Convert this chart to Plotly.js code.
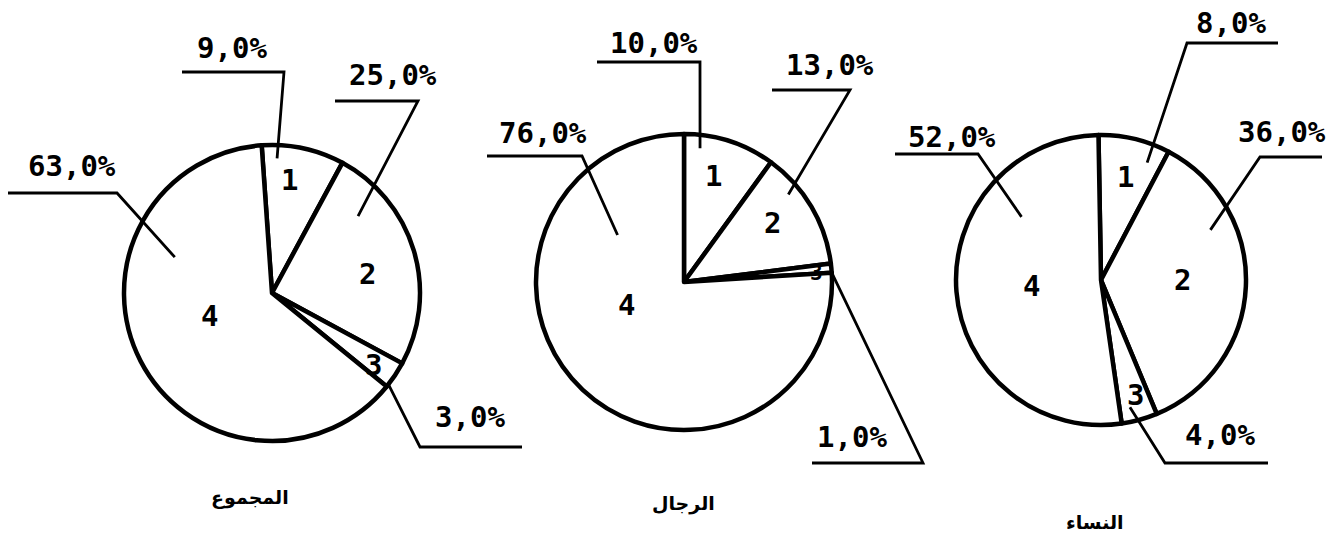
<!DOCTYPE html>
<html><head><meta charset="utf-8">
<script src="https://cdn.plot.ly/plotly-3.0.1.min.js"></script>
<style>html,body{margin:0;padding:0;background:#fff;}#chart{width:1342px;height:556px;}</style>
</head><body><div id="chart"></div>
<script>
// ---------- DATA ----------
const categories = ['1', '2', '3', '4'];
const groupTitles = ['المجموع', 'الرجال', 'النساء'];
const totalValues = [9, 25, 3, 63];
const menValues = [10, 13, 1, 76];
const womenValues = [8, 36, 4, 52];
const seriesValues = [totalValues, menValues, womenValues];

// ---------- LAYOUT (pixel geometry, not data) ----------
const W = 1342, H = 556;
const pieCenters = [[272, 293], [684, 282], [1101, 280]];
const pieRadii = [148, 148, 145];
const pieRotation = [-4, 0, -1];
// slice-number placement: [fraction along slice arc, radius fraction]
const numberPlacement = [
  [[0.40, 0.77], [0.56, 0.66], [0.66, 0.84], [0.53, 0.45]],
  [[0.43, 0.74], [0.44, 0.72], [0.95, 0.90], [0.59, 0.42]],
  [[0.49, 0.73], [0.48, 0.56], [0.42, 0.83], [0.50, 0.48]]
];
const numberFontSize = [[29, 29, 29, 29], [29, 29, 21, 29], [29, 29, 29, 29]];
// leader-line anchor inside the slice: [fraction along slice arc, radius fraction]
const leaderAnchor = [
  [[0.19, 0.91], [0.22, 0.78], [0.90, 1.00], [0.71, 0.70]],
  [[0.19, 0.91], [0.30, 0.92], [1.00, 1.00], [0.80, 0.55]],
  [[0.78, 0.87], [0.29, 0.83], [0.68, 0.90], [0.73, 0.70]]
];
const leaderElbow = [
  [[284, 72], [418, 101], [420, 447], [117, 193]],
  [[700, 62], [850, 90], [923, 463], [582, 156]],
  [[1187, 43], [1260, 157], [1165, 463], [978, 154]]
];
const leaderEndX = [[182, 335, 522, 8], [597, 772, 812, 487], [1278, 1322, 1268, 895]];
const pctTextPos = [
  [[232, 48], [393, 75], [470, 417], [72, 166]],
  [[654, 43], [830, 65], [852, 437], [543, 133]],
  [[1231, 23], [1282, 132], [1220, 435], [952, 137]]
];
const titlePos = [[250, 497], [683, 503], [1095, 522]];

// ---------- BUILD ----------
const px = x => x / W;
const py = y => 1 - y / H;

function sliceAngles(vals, rot) {
  const tot = vals.reduce((a, b) => a + b, 0);
  let cum = 0;
  return vals.map(v => {
    const s = rot + 360 * cum / tot;
    cum += v;
    return [s, rot + 360 * cum / tot];
  });
}
function polarPoint(c, r, angDeg, rf) {
  const a = angDeg * Math.PI / 180;
  return [c[0] + rf * r * Math.sin(a), c[1] - rf * r * Math.cos(a)];
}

const traces = [];
const annotations = [];
const shapes = [];
const monoBold = { family: 'DejaVu Sans Mono', size: 29, color: '#000', weight: 'bold' };

seriesValues.forEach((vals, g) => {
  const c = pieCenters[g], r = pieRadii[g];
  traces.push({
    type: 'pie',
    values: vals,
    labels: categories,
    sort: false,
    direction: 'clockwise',
    rotation: pieRotation[g],
    textinfo: 'none',
    hoverinfo: 'none',
    showlegend: false,
    marker: { colors: vals.map(() => '#ffffff'), line: { color: '#000', width: 4.5 } },
    domain: { x: [px(c[0] - r), px(c[0] + r)], y: [py(c[1] + r), py(c[1] - r)] }
  });
  const angs = sliceAngles(vals, pieRotation[g]);
  vals.forEach((v, i) => {
    const [s, e] = angs[i];
    // slice number
    const np = numberPlacement[g][i];
    const nPt = polarPoint(c, r, s + np[0] * (e - s), np[1]);
    annotations.push({
      xref: 'paper', yref: 'paper', x: px(nPt[0]), y: py(nPt[1]),
      xanchor: 'center', yanchor: 'middle', showarrow: false,
      text: categories[i],
      font: Object.assign({}, monoBold, { size: numberFontSize[g][i] })
    });
    // leader line
    const la = leaderAnchor[g][i];
    const aPt = polarPoint(c, r, s + la[0] * (e - s), la[1]);
    const el = leaderElbow[g][i];
    const hx = leaderEndX[g][i];
    shapes.push({
      type: 'path', xref: 'paper', yref: 'paper',
      path: `M ${px(aPt[0])},${py(aPt[1])} L ${px(el[0])},${py(el[1])} L ${px(hx)},${py(el[1])}`,
      line: { color: '#000', width: 2.8 }
    });
    // percentage label
    const tp = pctTextPos[g][i];
    annotations.push({
      xref: 'paper', yref: 'paper', x: px(tp[0]), y: py(tp[1]),
      xanchor: 'center', yanchor: 'middle', showarrow: false,
      text: v.toFixed(1).replace('.', ',') + '%',
      font: monoBold
    });
  });
  // group title
  annotations.push({
    xref: 'paper', yref: 'paper', x: px(titlePos[g][0]), y: py(titlePos[g][1]),
    xanchor: 'center', yanchor: 'middle', showarrow: false,
    text: groupTitles[g],
    font: { family: 'DejaVu Sans', size: 19, color: '#000', weight: 'bold' }
  });
});

Plotly.newPlot('chart', traces, {
  width: W, height: H,
  margin: { l: 0, r: 0, t: 0, b: 0 },
  paper_bgcolor: '#fff', plot_bgcolor: '#fff',
  showlegend: false,
  annotations: annotations,
  shapes: shapes
}, { staticPlot: true, displayModeBar: false });
</script>
</body></html>
